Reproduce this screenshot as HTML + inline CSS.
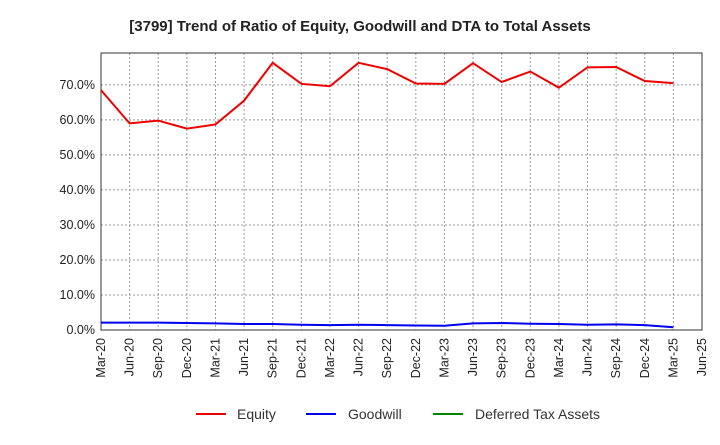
<!DOCTYPE html>
<html><head><meta charset="utf-8"><style>
body{margin:0;background:#fff;font-family:"Liberation Sans",sans-serif;}
</style></head><body>
<svg id="chart" width="720" height="440" xmlns="http://www.w3.org/2000/svg">
<text x="360" y="31" text-anchor="middle" font-size="15" font-weight="bold" fill="#222">[3799]  Trend of Ratio of Equity, Goodwill and DTA to Total Assets</text>
<g id="grid"></g><g id="axes"></g><g id="series"></g>
<g font-size="14" fill="#333">
<line x1="196" y1="414" x2="226" y2="414" stroke="#e00" stroke-width="2"/>
<text x="237" y="419">Equity</text>
<line x1="306" y1="414" x2="336" y2="414" stroke="#00e" stroke-width="2"/>
<text x="348" y="419">Goodwill</text>
<line x1="433" y1="414" x2="463" y2="414" stroke="#080" stroke-width="2"/>
<text x="475" y="419">Deferred Tax Assets</text>
</g>
</svg>
<script>
const categories=["Mar-20","Jun-20","Sep-20","Dec-20","Mar-21","Jun-21","Sep-21","Dec-21","Mar-22","Jun-22","Sep-22","Dec-22","Mar-23","Jun-23","Sep-23","Dec-23","Mar-24","Jun-24","Sep-24","Dec-24","Mar-25","Jun-25"];
const equity=[68.5,59.0,59.8,57.5,58.7,65.5,76.3,70.3,69.6,76.3,74.5,70.4,70.3,76.2,70.8,73.8,69.2,75.0,75.1,71.1,70.5];
const goodwill=[2.1,2.1,2.1,2.0,1.9,1.7,1.7,1.5,1.4,1.5,1.4,1.3,1.2,1.9,2.0,1.8,1.7,1.5,1.6,1.4,0.8];
const dta=[];
const yTicks=[0,10,20,30,40,50,60,70];
const L=101,R=702,T=53,B=330,yMax=79.1;
const ns="http://www.w3.org/2000/svg";
const xs=i=>L+(R-L)*i/(categories.length-1);
const ys=v=>B-(B-T)*v/yMax;
function mk(tag,attrs,parent){const e=document.createElementNS(ns,tag);for(const k in attrs)e.setAttribute(k,attrs[k]);document.getElementById(parent).appendChild(e);return e;}
categories.forEach((c,i)=>{
 const g=mk("line",{x1:xs(i),x2:xs(i),y1:T,y2:B,stroke:"#999","stroke-dasharray":"2,2","stroke-width":1},"grid");
 
 
 const t=mk("text",{x:0,y:0,"font-size":12.5,fill:"#222","text-anchor":"end",transform:`translate(${xs(i)+4},${B+8}) rotate(-90)`},"axes");
 t.textContent=c;
 
 
});
yTicks.forEach(v=>{
 const g=mk("line",{x1:L,x2:R,y1:ys(v),y2:ys(v),stroke:"#999","stroke-dasharray":"2,2","stroke-width":1},"grid");
 
 
 const t=mk("text",{x:L-6,y:ys(v)+4,"font-size":12.5,fill:"#222","text-anchor":"end"},"axes");
 t.textContent=v.toFixed(1)+"%";
 
 
});
const frame=mk("rect",{x:L,y:T,width:R-L,height:B-T,fill:"none",stroke:"#333","stroke-width":1},"axes");


function line(data,color,name){
 if(!data.length)return;
 const p=mk("polyline",{points:data.map((v,i)=>xs(i)+","+ys(v)).join(" "),fill:"none",stroke:color,"stroke-width":2},"series");
 
 
}
line(equity,"#e00","equity-line");
line(goodwill,"#00e","goodwill-line");
line(dta,"#080","dta-line");
</script>
</body></html>
